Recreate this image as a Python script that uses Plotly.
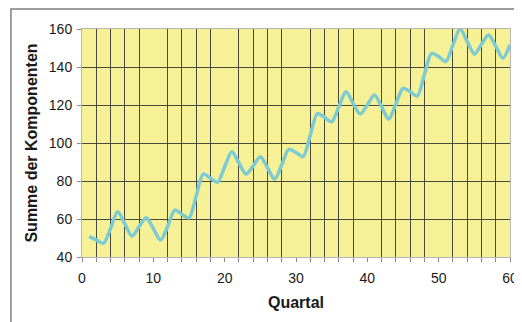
import plotly.graph_objects as go

# Quartal 1..60, Summe der Komponenten
quartal = list(range(1, 61))
summe = [50.7, 49.0, 47.2, 55.0, 63.8, 57.5, 51.0, 56.0, 60.7, 55.0,
         48.9, 56.0, 64.7, 62.5, 60.5, 72.0, 83.7, 81.5, 79.3, 87.5,
         95.4, 89.5, 83.7, 88.0, 92.8, 87.0, 80.9, 88.5, 96.7, 95.0,
         92.8, 104.0, 115.5, 113.5, 111.2, 119.0, 127.0, 121.0, 115.3, 120.0,
         125.3, 119.0, 112.5, 120.5, 128.8, 127.0, 124.7, 136.0, 147.2, 145.5,
         142.8, 151.5, 160.0, 153.5, 146.8, 152.0, 156.8, 151.0, 144.6, 151.6]

fig = go.Figure()
fig.add_trace(go.Scatter(x=quartal, y=summe, mode="lines",
                         line=dict(color="#7ccbd3", width=3.5, shape="spline", smoothing=0.8),
                         showlegend=False, hoverinfo="x+y"))

# outer chart frame (only top and left edges are visible in the picture)
fig.add_shape(type="rect", xref="paper", yref="paper",
              x0=-0.166, x1=1.5, y0=-0.6, y1=1.088,
              line=dict(color="#7f7f7f", width=1.5), layer="below")

# page body has an 8px margin, so the figure is a bit smaller than the window
fig.update_layout(
    width=514, height=314,
    margin=dict(l=74, r=12, t=21, b=65, autoexpand=False),
    paper_bgcolor="white",
    plot_bgcolor="#f6f197",
    font=dict(family="Liberation Sans, Arial, sans-serif", size=14, color="#1a1a1a"),
    xaxis=dict(range=[0, 60], dtick=10, tick0=0, automargin=False,
               showgrid=False, zeroline=False,
               showline=True, linecolor="#b5b5b5", linewidth=1, mirror=True,
               ticks="outside", ticklen=4, tickcolor="#888888", ticklabelstandoff=4,
               minor=dict(dtick=2, showgrid=True, gridcolor="#4a4a3a", gridwidth=1,
                          ticks="outside", ticklen=4, tickcolor="#888888"),
               title=dict(text="<b>Quartal</b>", font=dict(size=16), standoff=12)),
    yaxis=dict(range=[40, 160], dtick=20, tick0=40, automargin=False,
               showgrid=True, gridcolor="#4a4a3a", gridwidth=1, zeroline=False,
               showline=True, linecolor="#b5b5b5", linewidth=1, mirror=True,
               ticks="outside", ticklen=4, tickcolor="#888888", ticklabelstandoff=2,
               title=dict(text="<b>Summe der Komponenten</b>", font=dict(size=16), standoff=7)),
)

fig.write_html("out.html")
